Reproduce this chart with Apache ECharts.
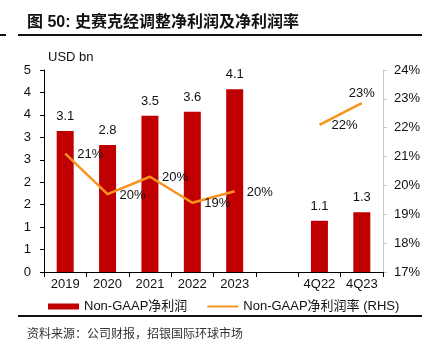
<!DOCTYPE html>
<html>
<head>
<meta charset="utf-8">
<script src="https://cdn.jsdelivr.net/npm/echarts@6/dist/echarts.min.js"></script>
<style>
  html, body { margin: 0; padding: 0; background: #fff; }
  #chart { width: 430px; height: 353px; }
</style>
</head>
<body>
<div id="chart"></div>
<script>
// 数据
var categories = ["2019", "2020", "2021", "2022", "2023", "", "4Q22", "4Q23"];
var netProfit = [3.14, 2.83, 3.48, 3.57, 4.07, null, 1.14, 1.33];
var netMargin = [21.1, 19.7, 20.3, 19.4, 19.8, null, 22.1, 22.85];
var leftTicks = ["0", "1", "1", "2", "2", "3", "3", "4", "4", "5"];
var rightTicks = ["17%", "18%", "19%", "20%", "21%", "22%", "23%", "24%"];

var FONT = "Liberation Sans, Arial, Noto Sans CJK SC, sans-serif";
var barName = "Non-GAAP净利润";
var lineName = "Non-GAAP净利润率 (RHS)";

var myChart = echarts.init(document.getElementById("chart"));
var option = {
  backgroundColor: "#fff",
  textStyle: { fontFamily: FONT },
  title: [
    {
      text: "图 50: 史赛克经调整净利润及净利润率",
      left: 22,
      top: 10,
      textStyle: { fontSize: 16, fontWeight: "bold", color: "#111", fontFamily: FONT }
    },
    {
      text: "USD bn",
      left: 43,
      top: 46,
      textStyle: { fontSize: 13, fontWeight: "normal", color: "#111", fontFamily: FONT }
    },
    {
      text: "资料来源：公司财报，招银国际环球市场",
      left: 22,
      top: 322,
      textStyle: { fontSize: 12, fontWeight: "normal", color: "#333", fontFamily: "Noto Sans CJK SC, sans-serif" }
    }
  ],
  graphic: [
    { type: "rect", shape: { x: 18, y: 34, width: 404, height: 2 }, style: { fill: "#111" } },
    { type: "rect", shape: { x: 0, y: 34, width: 6, height: 2 }, style: { fill: "#111" } },
    { type: "rect", shape: { x: 18, y: 315, width: 404, height: 2 }, style: { fill: "#111" } }
  ],
  legend: {
    left: 43,
    top: 295,
    itemWidth: 31,
    itemHeight: 6,
    itemGap: 20,
    textStyle: { fontSize: 13, color: "#111", fontFamily: FONT },
    data: [
      { name: barName, icon: "rect" },
      { name: lineName, icon: "path://M0,0 L32,0 L32,2 L0,2 Z" }
    ]
  },
  grid: { left: 44, right: 47, top: 70, bottom: 81, containLabel: false },
  xAxis: {
    type: "category",
    data: categories,
    axisLine: { lineStyle: { color: "#000", width: 1 } },
    axisTick: { show: true, length: 5, lineStyle: { color: "#000" } },
    axisLabel: { color: "#111", fontSize: 13, margin: 6, interval: 0 }
  },
  yAxis: [
    {
      type: "value",
      min: 0,
      max: 4.5,
      interval: 0.5,
      splitLine: { show: false },
      axisLine: { show: true, lineStyle: { color: "#000" } },
      axisTick: { show: true, length: 4, lineStyle: { color: "#000" } },
      axisLabel: {
        color: "#111",
        fontSize: 13,
        margin: 13,
        formatter: function (v, i) { return leftTicks[i]; }
      }
    },
    {
      type: "value",
      min: 17,
      max: 24,
      interval: 1,
      position: "right",
      splitLine: { show: false },
      axisLine: { show: true, lineStyle: { color: "#c8c8c8" } },
      axisTick: { show: true, length: 4, lineStyle: { color: "#c8c8c8" } },
      axisLabel: {
        color: "#111",
        fontSize: 13,
        margin: 11,
        formatter: function (v, i) { return rightTicks[i]; }
      }
    }
  ],
  series: [
    {
      name: barName,
      type: "bar",
      data: netProfit,
      barWidth: 17,
      itemStyle: { color: "#C00000" },
      label: {
        show: true,
        position: "top",
        distance: 8,
        fontSize: 13,
        color: "#111",
        formatter: function (p) { return p.value.toFixed(1); }
      }
    },
    {
      name: lineName,
      type: "line",
      yAxisIndex: 1,
      data: netMargin.map(function (v, i) {
        return i === 7
          ? { value: v, label: { position: "top", distance: 3 } }
          : { value: v, label: { position: "right", offset: [0, 1] } };
      }),
      connectNulls: false,
      showSymbol: true,
      symbol: "circle",
      symbolSize: 0,
      lineStyle: { color: "#F8931F", width: 2.5 },
      itemStyle: { color: "#F8931F" },
      label: {
        show: true,
        distance: 12,
        fontSize: 13,
        color: "#111",
        formatter: function (p) { return Math.round(p.value) + "%"; }
      }
    }
  ]
};
myChart.setOption(option);
</script>
</body>
</html>
